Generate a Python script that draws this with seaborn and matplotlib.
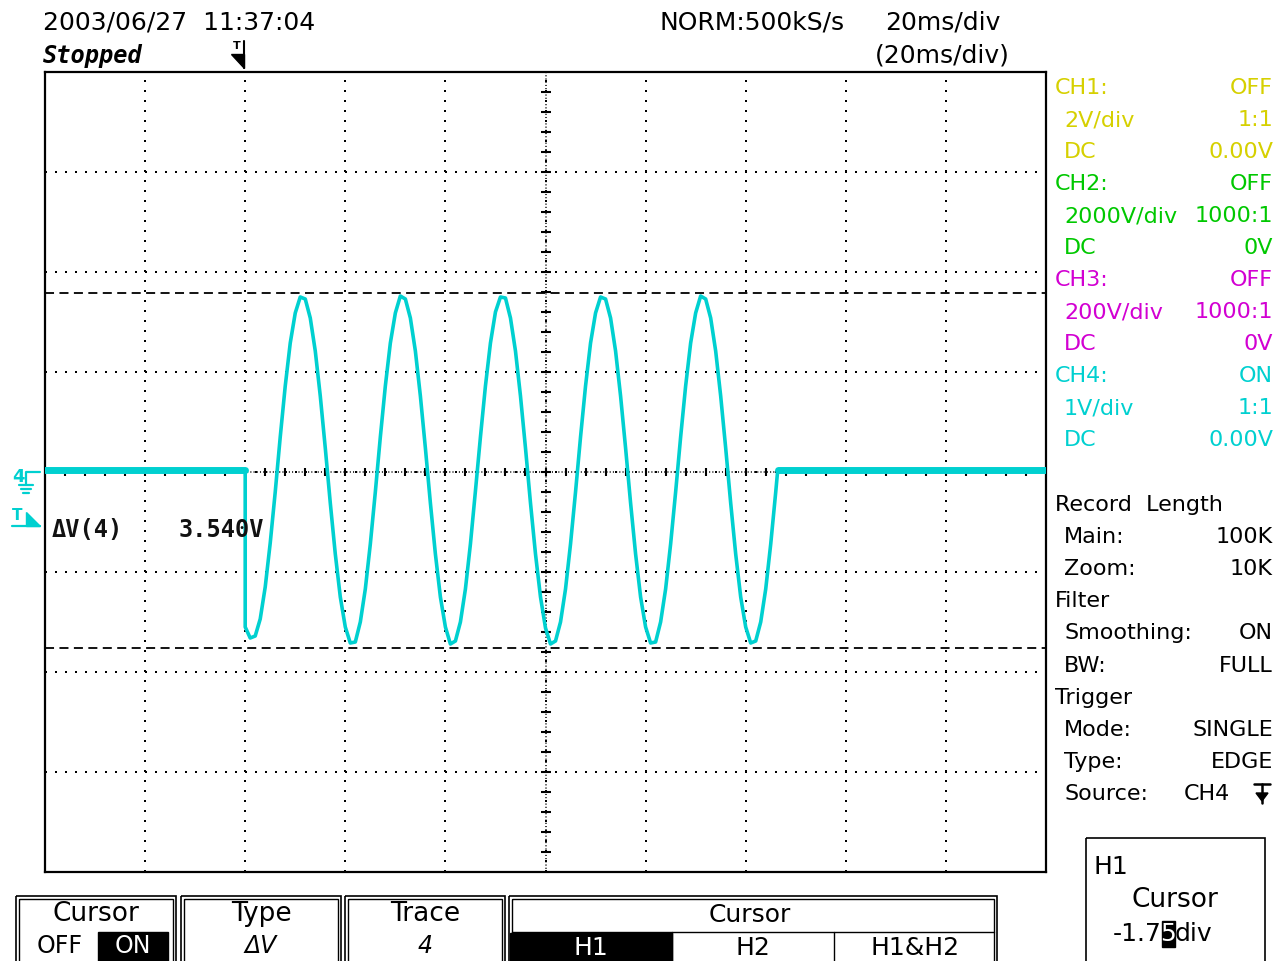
import numpy as np
import matplotlib
matplotlib.use('Agg')
import matplotlib.pyplot as plt
from matplotlib.patches import Rectangle, Polygon
import seaborn as sns

# ---- CH4 trace (time in ms, volts = div at 1V/div) ----
base_left_t = [0, 40]
base_left_v = [0.02, 0.02]
base_right_t = [146.4, 200]
base_right_v = [0.02, 0.02]

# burst: falls straight down at the trigger (40 ms), five cycles, back to 0 at 146.4 ms
sine_t = [40] + list(range(40, 147)) + [146.4]
sine_v = [0.02, -1.55,
          -1.66, -1.64, -1.47, -1.15, -0.71, -0.20, 0.35, 0.86, 1.29, 1.59,
          1.75, 1.73, 1.54, 1.21, 0.76, 0.24, -0.31, -0.82, -1.25, -1.55,
          -1.71, -1.70, -1.50, -1.17, -0.72, -0.20, 0.35, 0.86, 1.29, 1.59,
          1.76, 1.73, 1.54, 1.21, 0.76, 0.24, -0.31, -0.82, -1.25, -1.55,
          -1.72, -1.69, -1.50, -1.17, -0.72, -0.19, 0.35, 0.86, 1.29, 1.60,
          1.75, 1.74, 1.54, 1.21, 0.76, 0.24, -0.31, -0.82, -1.25, -1.56,
          -1.72, -1.69, -1.50, -1.17, -0.72, -0.20, 0.35, 0.86, 1.29, 1.59,
          1.75, 1.73, 1.54, 1.21, 0.76, 0.24, -0.31, -0.82, -1.25, -1.55,
          -1.71, -1.70, -1.50, -1.17, -0.72, -0.20, 0.35, 0.86, 1.29, 1.59,
          1.76, 1.73, 1.54, 1.21, 0.76, 0.24, -0.31, -0.82, -1.25, -1.55,
          -1.71, -1.69, -1.50, -1.17, -0.72, -0.20,
          0.02]

cursor_h1 = -1.76
cursor_h2 = 1.79

# ---- screen texts ----
header = ['2003/06/27  11:37:04', 'NORM:500kS/s', '20ms/div', '(20ms/div)']
ch_labels = ['CH1:', 'CH2:', 'CH3:', 'CH4:']
ch_state = ['OFF', 'OFF', 'OFF', 'ON']
ch_scale = ['2V/div', '2000V/div', '200V/div', '1V/div']
ch_probe = ['1:1', '1000:1', '1000:1', '1:1']
ch_offset = ['0.00V', '0V', '0V', '0.00V']
ch_colors = ['#d6d000', '#00c800', '#d200d2', '#00d0d0']
setup_rows = [('Record  Length', None, 0), ('Main:', '100K', 1), ('Zoom:', '10K', 1),
              ('Filter', None, 0), ('Smoothing:', 'ON', 1), ('BW:', 'FULL', 1),
              ('Trigger', None, 0), ('Mode:', 'SINGLE', 1), ('Type:', 'EDGE', 1),
              ('Source:', 'CH4', 1)]
menu_heads = ['Cursor', 'Type', 'Trace']
menu_vals = ['', 'ΔV', '4']
cursor_opts = ['H1', 'H2', 'H1&H2']
meas_label = 'ΔV(4)'
meas_value = '3.540V'

TRACE = '#00d0d0'
W, H = 1287, 961

sns.set_theme(style='white')
plt.rcParams['font.family'] = ['DejaVu Sans']

fig = plt.figure(figsize=(W / 100, H / 100), dpi=100)
fig.patch.set_facecolor('white')

ax = fig.add_axes([45 / W, (H - 872) / H, 1001 / W, 800 / H])
ax.set_xlim(0, 200)
ax.set_ylim(-4, 4)
ax.set_xticks(np.arange(0, 201, 20))
ax.set_yticks(np.arange(-4, 5, 1))
ax.set_axisbelow(True)
ax.grid(True, color='black', lw=1.44, linestyle=(0, (1, 4)))
ax.tick_params(length=0, labelbottom=False, labelleft=False)
for s in ax.spines.values():
    s.set_color('black')
    s.set_linewidth(1.6)

# centre cross with fine dots and 0.2 div ticks
ax.axhline(0, color='black', lw=1.1, linestyle=(0, (0.7, 1.4)), zorder=1)
ax.axvline(100, color='black', lw=1.1, linestyle=(0, (0.7, 1.4)), zorder=1)
hx = np.arange(4, 200, 4)
ax.plot(hx, np.zeros_like(hx), ls='none', marker='|', ms=6, mew=1.5, color='black', zorder=1)
vy = np.arange(-3.8, 4.0, 0.2)
ax.plot(np.full_like(vy, 100), vy, ls='none', marker='_', ms=7, mew=1.5, color='black', zorder=1)

# cursors
ax.axhline(cursor_h2, color='black', lw=1.3, linestyle=(0, (5, 3)), zorder=2)
ax.axhline(cursor_h1, color='black', lw=1.3, linestyle=(0, (5, 3)), zorder=2)

# trace
sns.lineplot(x=base_left_t, y=base_left_v, ax=ax, color=TRACE, lw=5, sort=False,
             estimator=None, zorder=3)
sns.lineplot(x=base_right_t, y=base_right_v, ax=ax, color=TRACE, lw=5, sort=False,
             estimator=None, zorder=3)
sns.lineplot(x=sine_t, y=sine_v, ax=ax, color=TRACE, lw=2.6, sort=False,
             estimator=None, zorder=3)
ax.set_xlabel('')
ax.set_ylabel('')

ax.text(0.007, 0.428, meas_label, transform=ax.transAxes, family='DejaVu Sans Mono',
        fontsize=17, fontweight='bold', va='center', ha='left', color='#111111', zorder=4)
ax.text(0.133, 0.428, meas_value, transform=ax.transAxes, family='DejaVu Sans Mono',
        fontsize=17, fontweight='bold', va='center', ha='left', color='#111111', zorder=4)

# overlay in screen pixels for everything around the graticule
ov = fig.add_axes([0, 0, 1, 1])
ov.set_xlim(0, W)
ov.set_ylim(H, 0)
ov.axis('off')
ov.patch.set_alpha(0)


def put(x, y, s, size=16, ha='left', color='black', **kw):
    ov.text(x, y, s, fontsize=size, ha=ha, va='center', color=color, **kw)


put(43, 23, header[0], 18)
put(43, 56, 'Stopped', 17, style='italic', family='DejaVu Sans Mono', fontweight='bold')
put(660, 23, header[1], 18)
put(885, 23, header[2], 18)
put(875, 56, header[3], 18)

# trigger position marker on top
put(233, 46, 'T', 8, fontweight='bold')
ov.plot([244, 244], [41, 68], color='black', lw=1.5)
ov.add_patch(Polygon([(231, 54), (244, 54), (244, 68)], closed=True, color='black'))

# ch4 ground and trigger level markers on the left
put(12, 477, '4', 13, color=TRACE, fontweight='bold')
ov.plot([26, 26, 40], [484, 472, 472], color=TRACE, lw=1.6)
ov.plot([19, 33], [485, 485], color=TRACE, lw=1.6)
ov.plot([21, 31], [489, 489], color=TRACE, lw=1.6)
ov.plot([23, 29], [493, 493], color=TRACE, lw=1.6)
put(12, 516, 'T', 11, color=TRACE, fontweight='bold')
ov.plot([12, 40], [526, 526], color=TRACE, lw=1.6)
ov.add_patch(Polygon([(26, 512), (26, 526), (40, 526)], closed=True, color=TRACE))

# channel panel
for i in range(4):
    y0 = 88 + i * 96
    c = ch_colors[i]
    put(1055, y0, ch_labels[i], 16, color=c)
    put(1273, y0, ch_state[i], 16, ha='right', color=c)
    put(1064, y0 + 32, ch_scale[i], 16, color=c)
    put(1273, y0 + 32, ch_probe[i], 16, ha='right', color=c)
    put(1064, y0 + 64, 'DC', 16, color=c)
    put(1273, y0 + 64, ch_offset[i], 16, ha='right', color=c)

# setup panel
for j, (lab, val, ind) in enumerate(setup_rows):
    y0 = 505 + j * 32.1
    put(1055 + 9 * ind, y0, lab, 16)
    if val is not None:
        if lab == 'Source:':
            put(1230, y0, val, 16, ha='right')
        else:
            put(1273, y0, val, 16, ha='right')
ov.plot([1254, 1270], [784, 784], color='black', lw=1.8)
ov.plot([1262, 1262], [784, 803], color='black', lw=1.8)
ov.add_patch(Polygon([(1256, 793), (1268, 793), (1262, 801)], closed=True, color='black'))

# soft-key menu at the bottom
boxes = [(16, 176), (181, 341), (345, 505)]
for (x0, x1), head, val in zip(boxes, menu_heads, menu_vals):
    ov.add_patch(Rectangle((x0, 896), x1 - x0, 70, fill=False, ec='black', lw=1.2))
    ov.add_patch(Rectangle((x0 + 3, 899), x1 - x0 - 6, 70, fill=False, ec='black', lw=1.0))
    put((x0 + x1) / 2, 914, head, 19, ha='center')
    if val:
        put((x0 + x1) / 2, 946, val, 17, ha='center', style='italic')
put(60, 946, 'OFF', 17, ha='center')
ov.add_patch(Rectangle((98, 932), 70, 30, color='black'))
put(133, 946, 'ON', 17, ha='center', color='white')

ov.add_patch(Rectangle((509, 896), 488, 70, fill=False, ec='black', lw=1.2))
ov.add_patch(Rectangle((512, 899), 482, 70, fill=False, ec='black', lw=1.0))
put(750, 915, 'Cursor', 18, ha='center')
ov.plot([512, 994], [932, 932], color='black', lw=1.0)
ov.plot([672, 672], [932, 961], color='black', lw=1.0)
ov.plot([834, 834], [932, 961], color='black', lw=1.0)
ov.add_patch(Rectangle((510, 933), 162, 30, color='black'))
for k, opt in enumerate(cursor_opts):
    put(591 + k * 162, 948, opt, 18, ha='center', color='white' if k == 0 else 'black')

# cursor readout box
ov.add_patch(Rectangle((1086, 838), 179, 130, fill=False, ec='black', lw=1.2))
put(1093, 867, 'H1', 18)
put(1175, 900, 'Cursor', 19, ha='center')
put(1162, 934, '-1.7', 18, ha='right')
ov.add_patch(Rectangle((1162, 921), 13, 26, color='black'))
put(1168.5, 934, '5', 18, ha='center', color='white')
put(1175, 934, 'div', 18)

fig.savefig('out.png', dpi=100, facecolor='white')
